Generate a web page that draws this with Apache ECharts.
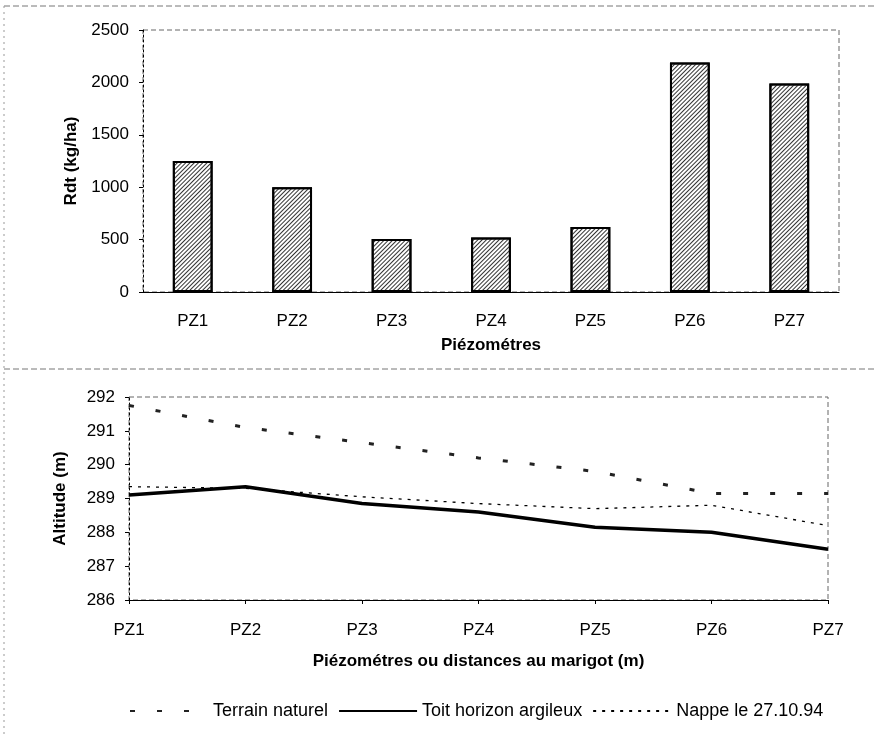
<!DOCTYPE html>
<html>
<head>
    <meta charset="utf-8">
    <title>Rdt et piézométres</title>
    <script src="https://cdn.jsdelivr.net/npm/echarts@6/dist/echarts.min.js"></script>
    <style>
        body { margin: 0; background: #fff; }
    </style>
</head>
<body>
    <div id="main" style="width: 874px;height:737px;"></div>

    <script type="text/javascript">

        // données
        var piezometres = ['PZ1', 'PZ2', 'PZ3', 'PZ4', 'PZ5', 'PZ6', 'PZ7'];
        var rendement = [1250, 1000, 505, 520, 620, 2190, 1990];   // Rdt (kg/ha)
        var terrainNaturel = [291.75, 291.1, 290.65, 290.2, 289.8, 289.15, 289.15];
        var toitArgileux = [289.1, 289.35, 288.85, 288.6, 288.15, 288.0, 287.5];
        var nappe = [289.35, 289.3, 289.05, 288.85, 288.7, 288.8, 288.2];

        var police = 'Liberation Sans, Arial, sans-serif';
        var titre = { fontFamily: police, fontSize: 17, fontWeight: 'bold', color: '#000' };
        var myChart = echarts.init(document.getElementById('main'));

        var option = {
            backgroundColor: '#fff',
            animation: false,
            textStyle: { fontFamily: police, color: '#000' },
            grid: [
                { left: 143, right: 35, top: 30, height: 262, show: true, borderColor: '#666', borderWidth: 1, borderType: [5, 3], backgroundColor: 'transparent' },
                { left: 129, right: 46, top: 397, height: 203, show: true, borderColor: '#666', borderWidth: 1, borderType: [5, 3], backgroundColor: 'transparent' }
            ],
            legend: {
                bottom: 12,
                left: 124,
                itemWidth: 78,
                itemHeight: 10,
                itemGap: 10,
                itemStyle: { opacity: 0 },
                textStyle: { fontFamily: police, fontSize: 18, color: '#000' },
                data: ['Terrain naturel', 'Toit horizon argileux', 'Nappe le 27.10.94']
            },
            xAxis: [
                {
                    type: 'category', gridIndex: 0, data: piezometres,
                    name: 'Piézométres', nameLocation: 'middle', nameGap: 45,
                    nameTextStyle: titre,
                    axisLine: { lineStyle: { color: '#000', width: 1 } },
                    axisTick: { length: 4, lineStyle: { color: '#000' } },
                    axisLabel: { fontSize: 17, color: '#000', margin: 21 }
                },
                {
                    type: 'category', gridIndex: 1, data: piezometres, boundaryGap: false,
                    name: 'Piézométres ou distances au marigot (m)', nameLocation: 'middle', nameGap: 53,
                    nameTextStyle: titre,
                    axisLine: { lineStyle: { color: '#000', width: 1 } },
                    axisTick: { length: 4, lineStyle: { color: '#000' } },
                    axisLabel: { fontSize: 17, color: '#000', margin: 22 }
                }
            ],
            yAxis: [
                {
                    type: 'value', gridIndex: 0, min: 0, max: 2500, interval: 500,
                    name: 'Rdt (kg/ha)', nameLocation: 'middle', nameGap: 62,
                    nameTextStyle: titre,
                    axisLine: { show: true, lineStyle: { color: '#000', type: [2, 3] } },
                    axisTick: { show: true, length: 4, lineStyle: { color: '#000' } },
                    axisLabel: { fontSize: 17, color: '#000', margin: 14, formatter: function (v) { return String(v); } },
                    splitLine: { show: false }
                },
                {
                    type: 'value', gridIndex: 1, min: 286, max: 292, interval: 1,
                    name: 'Altitude (m)', nameLocation: 'middle', nameGap: 60,
                    nameTextStyle: titre,
                    axisLine: { show: true, lineStyle: { color: '#000', type: [2, 3] } },
                    axisTick: { show: true, length: 4, lineStyle: { color: '#000' } },
                    axisLabel: { fontSize: 17, color: '#000', margin: 14, formatter: function (v) { return String(v); } },
                    splitLine: { show: false }
                }
            ],
            series: [
                {
                    name: 'Rdt', type: 'bar', xAxisIndex: 0, yAxisIndex: 0,
                    data: rendement, barWidth: '40%',
                    itemStyle: {
                        color: '#fff', borderColor: '#000', borderWidth: 2,
                        decal: {
                            symbol: 'rect', color: '#333',
                            dashArrayX: [1, 0], dashArrayY: [1, 2],
                            rotation: -Math.PI / 4
                        }
                    }
                },
                {
                    name: 'Terrain naturel', type: 'line', xAxisIndex: 1, yAxisIndex: 1,
                    data: terrainNaturel, symbol: 'none',
                    lineStyle: { color: '#222', width: 3, type: [5, 22] }
                },
                {
                    name: 'Toit horizon argileux', type: 'line', xAxisIndex: 1, yAxisIndex: 1,
                    data: toitArgileux, symbol: 'none',
                    lineStyle: { color: '#000', width: 3.5 }
                },
                {
                    name: 'Nappe le 27.10.94', type: 'line', xAxisIndex: 1, yAxisIndex: 1,
                    data: nappe, symbol: 'none',
                    lineStyle: { color: '#000', width: 1.3, type: [3, 6] }
                }
            ],
            graphic: [
                { type: 'line', shape: { x1: 4, y1: 6, x2: 874, y2: 6 }, style: { stroke: '#777', lineWidth: 1, lineDash: [6, 3] } },
                { type: 'line', shape: { x1: 4, y1: 369, x2: 874, y2: 369 }, style: { stroke: '#777', lineWidth: 1, lineDash: [6, 3] } },
                { type: 'line', shape: { x1: 4, y1: 6, x2: 4, y2: 737 }, style: { stroke: '#999', lineWidth: 1, lineDash: [2, 4] } }
            ]
        };

        myChart.setOption(option);

    </script>
</body>
</html>
